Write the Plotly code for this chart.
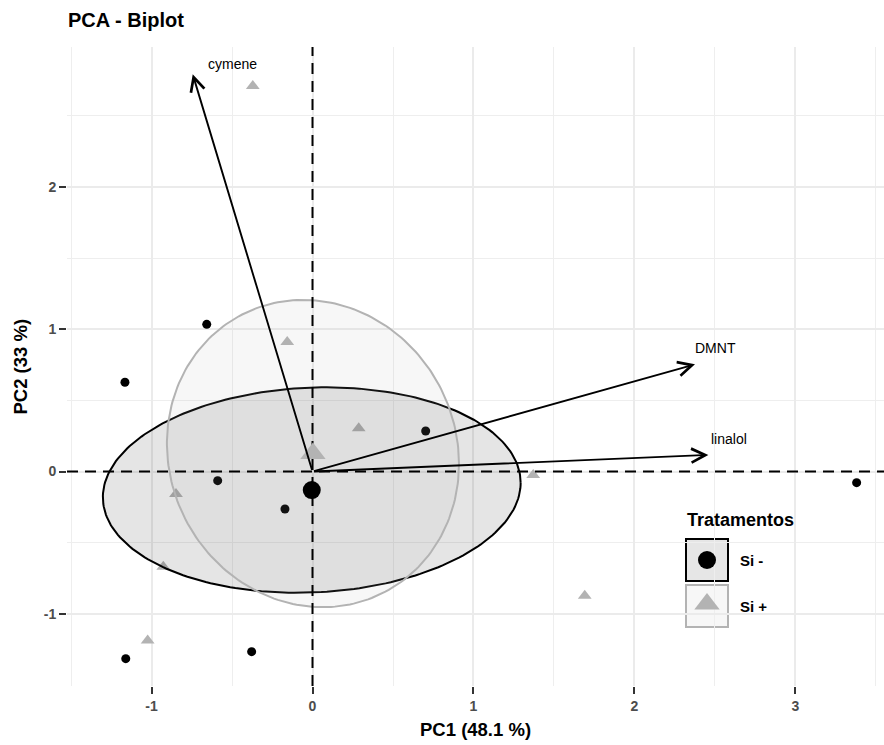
import numpy as np
import plotly.graph_objects as go

# ---- data ----
si_neg_pc1 = [-0.657, -1.165, -0.589, -0.171, 0.703, 3.380, -1.160, -0.378]
si_neg_pc2 = [1.034, 0.627, -0.064, -0.263, 0.285, -0.078, -1.314, -1.265]
si_pos_pc1 = [-0.371, -0.157, 0.287, -0.848, -0.927, -1.024, 1.371, 1.691]
si_pos_pc2 = [2.708, 0.910, 0.304, -0.157, -0.668, -1.187, -0.024, -0.873]
var_names = ["cymene", "DMNT", "linalol"]
var_pc1 = [-0.744, 2.376, 2.459]
var_pc2 = [2.790, 0.753, 0.117]
label_pc1 = [-0.494, 2.506, 2.590]
label_pc2 = [2.862, 0.868, 0.231]
x_ticks = [-1, 0, 1, 2, 3]
y_ticks = [-1, 0, 1, 2]
groups = ["Si -", "Si +"]
ellipse_scale = 0.87
x_range = [-1.525, 3.550]
y_range = [-1.506, 2.982]

FONT = "Liberation Sans, Arial, sans-serif"
BLACK = "#000000"
GREY = "#B3B3B3"


def ellipse(xs, ys, k, n=240):
    xs = np.asarray(xs, float)
    ys = np.asarray(ys, float)
    mu = np.array([xs.mean(), ys.mean()])
    cov = np.cov(xs, ys)
    L = np.linalg.cholesky(cov)
    t = np.linspace(0, 2 * np.pi, n)
    circ = np.vstack([np.cos(t), np.sin(t)])
    pts = mu[:, None] + k * (L @ circ)
    return pts[0], pts[1], mu


fig = go.Figure()

# individual points
fig.add_trace(go.Scatter(x=si_neg_pc1, y=si_neg_pc2, mode="markers",
                         marker=dict(symbol="circle", size=9, color=BLACK),
                         showlegend=False))
fig.add_trace(go.Scatter(x=si_pos_pc1, y=si_pos_pc2, mode="markers",
                         marker=dict(symbol="triangle-up", size=12, color=GREY),
                         showlegend=False))

# ellipses
ex1, ey1, mu1 = ellipse(si_neg_pc1, si_neg_pc2, ellipse_scale)
ex2, ey2, mu2 = ellipse(si_pos_pc1, si_pos_pc2, ellipse_scale)
fig.add_trace(go.Scatter(x=ex1, y=ey1, mode="lines", fill="toself",
                         fillcolor="rgba(0,0,0,0.1)",
                         line=dict(color=BLACK, width=2), showlegend=False))
fig.add_trace(go.Scatter(x=ex2, y=ey2, mode="lines", fill="toself",
                         fillcolor="rgba(179,179,179,0.1)",
                         line=dict(color=GREY, width=2), showlegend=False))

# zero reference lines
dash_line = dict(color=BLACK, width=2, dash="11px,7px")
fig.add_trace(go.Scatter(x=x_range, y=[0, 0], mode="lines", line=dash_line,
                         showlegend=False, hoverinfo="skip"))
fig.add_trace(go.Scatter(x=[0, 0], y=y_range, mode="lines", line=dash_line,
                         showlegend=False, hoverinfo="skip"))

# centroids
fig.add_trace(go.Scatter(x=[mu2[0]], y=[mu2[1]], mode="markers",
                         marker=dict(symbol="triangle-up", size=22, color=GREY),
                         showlegend=False))
fig.add_trace(go.Scatter(x=[mu1[0]], y=[mu1[1]], mode="markers",
                         marker=dict(symbol="circle", size=18, color=BLACK),
                         showlegend=False))

annotations = []
# variable arrows
for name, vx, vy, lx, ly in zip(var_names, var_pc1, var_pc2, label_pc1, label_pc2):
    annotations.append(dict(x=vx, y=vy, ax=0, ay=0, xref="x", yref="y",
                            axref="x", ayref="y", text="", showarrow=True,
                            arrowhead=5, arrowsize=1.45, arrowwidth=1.9,
                            arrowcolor=BLACK, standoff=0, startstandoff=0))
    annotations.append(dict(x=lx, y=ly, xref="x", yref="y", text=name,
                            showarrow=False, font=dict(family=FONT, size=14, color=BLACK),
                            xanchor="center", yanchor="middle"))

# axis titles
annotations.append(dict(x=0.5, y=-0.0673, xref="paper", yref="paper",
                        text="<b>PC1 (48.1 %)</b>", showarrow=False,
                        font=dict(family=FONT, size=18.5, color=BLACK),
                        xanchor="center", yanchor="middle"))
annotations.append(dict(x=-0.0575, y=0.5, xref="paper", yref="paper",
                        text="<b>PC2 (33 %)</b>", showarrow=False, textangle=-90,
                        font=dict(family=FONT, size=18.5, color=BLACK),
                        xanchor="center", yanchor="middle"))

# legend (drawn on a pixel-space overlay axis)
annotations.append(dict(x=685, y=520, xref="x2", yref="y2", text="<b>Tratamentos</b>",
                        showarrow=False, font=dict(family=FONT, size=18, color=BLACK),
                        xanchor="left", yanchor="middle"))
annotations.append(dict(x=738, y=560, xref="x2", yref="y2", text="<b>Si -</b>",
                        showarrow=False, font=dict(family=FONT, size=15, color=BLACK),
                        xanchor="left", yanchor="middle"))
annotations.append(dict(x=738, y=606, xref="x2", yref="y2", text="<b>Si +</b>",
                        showarrow=False, font=dict(family=FONT, size=15, color=BLACK),
                        xanchor="left", yanchor="middle"))
fig.add_shape(type="rect", xref="x2", yref="y2", x0=686, x1=728, y0=539, y1=581,
              fillcolor="#E6E6E6", line=dict(color=BLACK, width=2), layer="below")
fig.add_shape(type="rect", xref="x2", yref="y2", x0=686, x1=728, y0=585, y1=627,
              fillcolor="#F7F7F7", line=dict(color=GREY, width=2), layer="below")
fig.add_trace(go.Scatter(x=[707], y=[560], xaxis="x2", yaxis="y2", mode="markers",
                         marker=dict(symbol="circle", size=18, color=BLACK),
                         showlegend=False))
fig.add_trace(go.Scatter(x=[707], y=[604], xaxis="x2", yaxis="y2", mode="markers",
                         marker=dict(symbol="triangle-up", size=22, color=GREY),
                         showlegend=False))

axis_common = dict(showline=False, zeroline=False, showgrid=True,
                   gridcolor="#EBEBEB", gridwidth=1.8,
                   ticks="outside", ticklen=7, tickwidth=2, tickcolor="#333333",
                   tickfont=dict(family=FONT, size=14, color="#4D4D4D", weight="bold"),
                   tickmode="array",
                   minor=dict(tickmode="linear", tick0=0, dtick=0.5, showgrid=True,
                              gridcolor="#EEEEEE", gridwidth=1.1, ticks=""))

fig.update_layout(
    width=884, height=745,
    margin=dict(l=67, r=0, t=47, b=59),
    paper_bgcolor="white", plot_bgcolor="white",
    showlegend=False,
    title=dict(text="<b>PCA - Biplot</b>", x=68 / 884, xref="container", xanchor="left",
               y=1 - 20 / 745, yref="container", yanchor="middle",
               font=dict(family=FONT, size=20, color=BLACK)),
    xaxis=dict(range=x_range, tickvals=x_ticks, ticktext=[str(v) for v in x_ticks],
               **axis_common),
    yaxis=dict(range=y_range, tickvals=y_ticks, ticktext=[str(v) for v in y_ticks],
               **axis_common),
    xaxis2=dict(range=[67, 884], overlaying="x", visible=False, fixedrange=True),
    yaxis2=dict(range=[686, 47], overlaying="y", visible=False, fixedrange=True),
    annotations=annotations,
)

fig.write_html("out.html")
